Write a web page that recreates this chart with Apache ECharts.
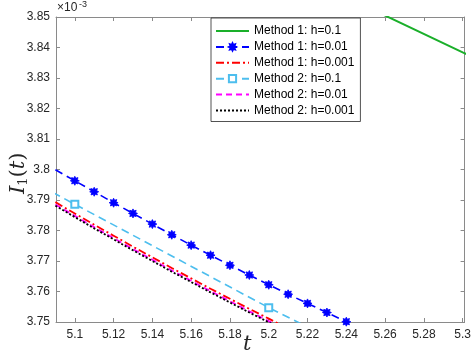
<!DOCTYPE html>
<html>
<head>
  <meta charset="utf-8" />
  <script src="https://cdn.jsdelivr.net/npm/echarts@6/dist/echarts.min.js"></script>
  <style>
    * { margin: 0; padding: 0; }
    #chart-container { width: 474px; height: 356px; }
  </style>
</head>
<body>
  <div id="chart-container"></div>
  <script>
    // time grid for h=0.01 / h=0.001 curves (sampled every 0.01 here)
    var tFine = [5.09, 5.10, 5.11, 5.12, 5.13, 5.14, 5.15, 5.16, 5.17, 5.18, 5.19, 5.20, 5.21, 5.22, 5.23, 5.24, 5.25];
    // time grid for h=0.1 curves
    var tCoarse = [5.0, 5.1, 5.2, 5.3, 5.4];

    // values in units of 1e-3
    var m1h01 = [3.935, 3.902, 3.8686, 3.8384, 3.809];
    var m1h001 = [3.7999, 3.7963, 3.7927, 3.7891, 3.7856, 3.7821, 3.7786, 3.7752, 3.7719, 3.7686, 3.7654, 3.7622, 3.7591, 3.7561, 3.7531, 3.7501, 3.7471];
    var m1h0001 = [3.7893, 3.7856, 3.7819, 3.7783, 3.7747, 3.7712, 3.7677, 3.7643, 3.7609, 3.7576, 3.7543, 3.7511, 3.7479, 3.7448, 3.7418, 3.7388, 3.7358];
    var m2h01 = [3.8226, 3.7886, 3.7547, 3.723, 3.693];
    var m2h001 = [3.7885, 3.7848, 3.7811, 3.7775, 3.7739, 3.7704, 3.7669, 3.7635, 3.7601, 3.7568, 3.7535, 3.7503, 3.7471, 3.7440, 3.7410, 3.7380, 3.7350];
    var m2h0001 = [3.7881, 3.7844, 3.7807, 3.7771, 3.7735, 3.7700, 3.7665, 3.7631, 3.7597, 3.7564, 3.7531, 3.7499, 3.7467, 3.7436, 3.7406, 3.7376, 3.7346];

    var xTicks = [5.1, 5.12, 5.14, 5.16, 5.18, 5.2, 5.22, 5.24, 5.26, 5.28, 5.3];

    function pairs(xs, ys) {
      return xs.map(function (x, i) { return [x, ys[i]]; });
    }

    var starPath = 'path://M10 0 L5.54 2.3 L7.07 7.07 L2.3 5.54 L0 10 L-2.3 5.54 L-7.07 7.07 L-5.54 2.3 L-10 0 L-5.54 -2.3 L-7.07 -7.07 L-2.3 -5.54 L0 -10 L2.3 -5.54 L7.07 -7.07 L5.54 -2.3 Z';

    var axisGray = '#8a8a8a';
    var textGray = '#262626';
    var xMin = 5.0903, xMax = 5.301;
    var noMark = { opacity: 0 };

    var dom = document.getElementById('chart-container');
    var myChart = echarts.init(dom, null, { renderer: 'canvas' });

    var option = {
      animation: false,
      backgroundColor: '#fff',
      grid: { left: 56, right: 5, top: 17, bottom: 34 },
      legend: {
        orient: 'vertical',
        left: 211,
        top: 18,
        padding: [7, 6, 5, 4],
        itemWidth: 33,
        itemHeight: 9,
        itemGap: 3.9,
        backgroundColor: '#fff',
        borderColor: '#262626',
        borderWidth: 0.8,
        textStyle: { fontFamily: 'Liberation Sans', fontSize: 12, color: '#000' },
        data: [
          { name: 'Method 1: h=0.1', itemStyle: noMark },
          { name: 'Method 1: h=0.01' },
          { name: 'Method 1: h=0.001', itemStyle: noMark },
          { name: 'Method 2: h=0.1' },
          { name: 'Method 2: h=0.01', itemStyle: noMark },
          { name: 'Method 2: h=0.001', itemStyle: noMark }
        ]
      },
      xAxis: [
        {
          type: 'value', min: xMin, max: xMax,
          axisLine: { onZero: false, lineStyle: { color: axisGray } },
          axisTick: { inside: true, length: 4, customValues: xTicks, lineStyle: { color: axisGray } },
          axisLabel: { customValues: xTicks, color: textGray, fontFamily: 'Liberation Sans', fontSize: 12, margin: 7,
            formatter: function (v) { return String(+v.toFixed(2)); } },
          splitLine: { show: false }
        },
        {
          type: 'value', min: xMin, max: xMax, position: 'top',
          axisLine: { onZero: false, lineStyle: { color: axisGray } },
          axisTick: { inside: true, length: 4, customValues: xTicks, lineStyle: { color: axisGray } },
          axisLabel: { show: false },
          splitLine: { show: false }
        }
      ],
      yAxis: [
        {
          type: 'value', min: 3.75, max: 3.85, interval: 0.01,
          axisLine: { show: true, onZero: false, lineStyle: { color: axisGray } },
          axisTick: { show: true, inside: true, length: 4, lineStyle: { color: axisGray } },
          axisLabel: { color: textGray, fontFamily: 'Liberation Sans', fontSize: 12, margin: 6,
            formatter: function (v) { return String(+v.toFixed(2)); } },
          splitLine: { show: false }
        },
        {
          type: 'value', min: 3.75, max: 3.85, interval: 0.01, position: 'right',
          axisLine: { show: true, onZero: false, lineStyle: { color: axisGray } },
          axisTick: { show: true, inside: true, length: 4, lineStyle: { color: axisGray } },
          axisLabel: { show: false },
          splitLine: { show: false }
        }
      ],
      series: [
        {
          name: 'Method 1: h=0.1', type: 'line', data: pairs(tCoarse, m1h01),
          symbol: 'none', lineStyle: { color: '#1aaf2a', width: 2 }, itemStyle: { color: '#1aaf2a' }
        },
        {
          name: 'Method 1: h=0.01', type: 'line', data: pairs(tFine, m1h001),
          symbol: starPath, symbolSize: 9,
          lineStyle: { color: '#0000ff', width: 1.6, type: [8, 5] },
          itemStyle: { color: '#0000ff', borderColor: '#0000ff', borderWidth: 0.8 }
        },
        {
          name: 'Method 1: h=0.001', type: 'line', data: pairs(tFine, m1h0001),
          symbol: 'none', lineStyle: { color: '#ff0000', width: 1.8, type: [8, 3, 2, 3] }, itemStyle: { color: '#ff0000' }
        },
        {
          name: 'Method 2: h=0.1', type: 'line', data: pairs(tCoarse, m2h01),
          symbol: 'emptyRect', symbolSize: 7,
          lineStyle: { color: '#4dbeee', width: 1.6, type: [8, 5] }, itemStyle: { color: '#4dbeee', borderWidth: 1.2 }
        },
        {
          name: 'Method 2: h=0.01', type: 'line', data: pairs(tFine, m2h001),
          symbol: 'none', lineStyle: { color: '#ff00ff', width: 1.8, type: [6, 4] }, itemStyle: { color: '#ff00ff' }
        },
        {
          name: 'Method 2: h=0.001', type: 'line', data: pairs(tFine, m2h0001),
          symbol: 'none', lineStyle: { color: '#000000', width: 1.8, type: [2, 2] }, itemStyle: { color: '#000000' }
        }
      ],
      graphic: [
        { type: 'text', left: 57, top: 2, style: { text: '×10', fontFamily: 'Liberation Sans', fontSize: 12, fill: textGray } },
        { type: 'text', left: 79, top: 0, style: { text: '-3', fontFamily: 'Liberation Sans', fontSize: 9, fill: textGray } },
        {
          type: 'text', x: 7, y: 194, rotation: Math.PI / 2,
          style: {
            text: '{i|I}{s|1}{p|(}{i|t}{p|)}',
            rich: {
              i: { fontFamily: 'DejaVu Serif', fontStyle: 'italic', fontSize: 21, fill: textGray },
              s: { fontFamily: 'DejaVu Serif', fontSize: 13, fill: textGray, padding: [10, 0, 0, 0] },
              p: { fontFamily: 'DejaVu Serif', fontSize: 21, fill: textGray }
            }
          }
        },
        { type: 'text', left: 243, top: 334, style: { text: 't', fontFamily: 'DejaVu Serif', fontStyle: 'italic', fontSize: 21, fill: textGray } }
      ]
    };

    myChart.setOption(option);
    window.addEventListener('resize', myChart.resize);
  </script>
</body>
</html>
